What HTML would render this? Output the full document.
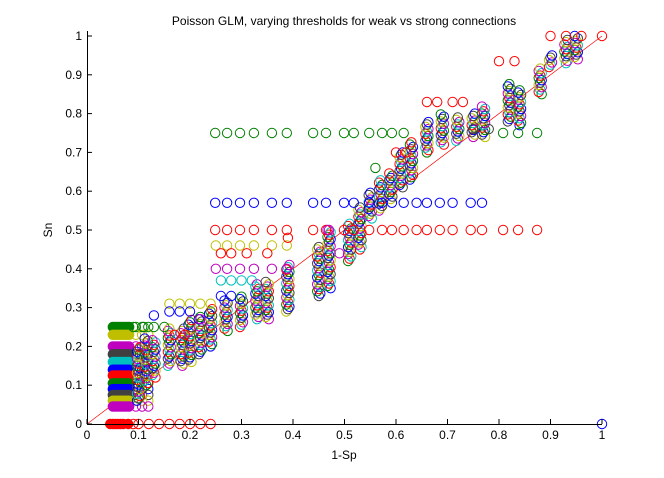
<!DOCTYPE html>
<html><head><meta charset="utf-8"><style>
body{margin:0;background:#fff}
svg{display:block;font-family:"Liberation Sans",sans-serif}
</style></head><body>
<svg id="chart" width="664" height="478" viewBox="0 0 664 478">
<text x="344" y="25" font-size="12" text-anchor="middle">Poisson GLM, varying thresholds for weak vs strong connections</text>
<g id="marks"></g>
<g id="axes"></g>
<text x="344" y="459" font-size="12" text-anchor="middle">1-Sp</text>
<text x="0" y="0" font-size="12" text-anchor="middle" transform="translate(52,230) rotate(-90)">Sn</text>
</svg>
<script>
const xTicks=[0,0.1,0.2,0.3,0.4,0.5,0.6,0.7,0.8,0.9,1];
const yTicks=[0,0.1,0.2,0.3,0.4,0.5,0.6,0.7,0.8,0.9,1];
const colors=["#0000ff","#008000","#ff0000","#00bfbf","#bf00bf","#bfbf00","#404040"];
const rowX=[0.249,0.272,0.297,0.324,0.359,0.388,0.439,0.464,0.499,0.518,0.548,0.573,0.592,0.615];
const greenRowY=0.75, greenRowExtra=[0.808,0.837,0.874];
const blueRowY=0.57, blueRowExtra=[0.64,0.66,0.685,0.71,0.745,0.767];
const redRowY=0.5, redRowExtra=[0.64,0.66,0.685,0.71,0.745,0.767,0.808,0.837,0.874];
const redZeroX=[0.045,0.05,0.055,0.06,0.065,0.07,0.08,0.09,0.1,0.12,0.14,0.16,0.18,0.2,0.22,0.24];
const sparse=[ // [x,y,colorIndex]
[0.66,0.83,2],[0.68,0.83,2],[0.71,0.83,2],[0.73,0.83,2],[0.6,0.7,2],[0.62,0.7,2],
[0.9,1.0,2],[0.93,1.0,2],[0.96,1.0,2],[0.8,0.935,2],[0.83,0.935,2],[1.0,1.0,2],[1.0,0.0,0],
[0.25,0.46,5],[0.272,0.46,5],[0.297,0.46,5],[0.324,0.46,5],[0.359,0.46,5],[0.388,0.46,5],
[0.26,0.44,2],[0.28,0.44,2],[0.31,0.44,2],[0.35,0.44,2],[0.39,0.48,2],
[0.25,0.4,4],[0.272,0.4,4],[0.297,0.4,4],[0.324,0.4,4],[0.359,0.4,4],[0.388,0.4,4],
[0.26,0.37,3],[0.28,0.37,3],[0.3,0.37,3],[0.32,0.37,3],[0.26,0.33,0],[0.28,0.33,0],
[0.16,0.31,5],[0.18,0.31,5],[0.2,0.31,5],[0.22,0.31,5],[0.24,0.31,5],
[0.09,0.25,1],[0.11,0.25,1],[0.13,0.25,1],[0.15,0.25,1],[0.17,0.23,2],[0.19,0.23,2],
[0.13,0.28,0],[0.16,0.29,0],[0.18,0.29,0],[0.2,0.29,0],[0.22,0.27,4],
[0.47,0.5,4],[0.49,0.44,4],[0.56,0.66,1],[0.75,0.76,6],[0.78,0.76,6]];
const colX=[0.1,0.115,0.13,0.16,0.185,0.2,0.22,0.24,0.27,0.3,0.33,0.35,0.39,0.45,0.47,0.51,0.53,0.55,0.57,0.59,0.61,0.63,0.66,0.69,0.72,0.75,0.77,0.82,0.84,0.88,0.9,0.93,0.95];
const colLo=[0.06,0.1,0.12,0.15,0.15,0.16,0.18,0.2,0.24,0.25,0.27,0.27,0.29,0.33,0.35,0.42,0.45,0.53,0.55,0.58,0.61,0.63,0.7,0.72,0.73,0.74,0.74,0.78,0.77,0.85,0.92,0.93,0.94];
const colHi=[0.2,0.22,0.22,0.25,0.25,0.27,0.28,0.3,0.32,0.33,0.36,0.37,0.41,0.46,0.5,0.52,0.56,0.6,0.63,0.65,0.7,0.73,0.78,0.8,0.79,0.8,0.82,0.88,0.86,0.92,0.95,0.99,1.0];
const bandY=[0.25,0.23,0.2,0.18,0.16,0.14,0.125,0.105,0.09,0.075,0.06,0.045];
const bandC=[1,5,4,6,3,0,2,1,0,6,5,4];

const X0=87,X1=602,Y0=424,Y1=36;
const sx=v=>X0+v*(X1-X0), sy=v=>Y0-v*(Y0-Y1);
const NS="http://www.w3.org/2000/svg";
const marks=document.getElementById('marks'), axes=document.getElementById('axes');
function circ(x,y,c,fill,name){
 const e=document.createElementNS(NS,'circle');
 e.setAttribute('cx',sx(x).toFixed(1));e.setAttribute('cy',sy(y).toFixed(1));e.setAttribute('r',4.7);
 e.setAttribute('fill',fill?c:'none');e.setAttribute('stroke',c);e.setAttribute('stroke-width',1);
 
 
 marks.appendChild(e);
}
const d=document.createElementNS(NS,'line');
d.setAttribute('x1',sx(0));d.setAttribute('y1',sy(0));d.setAttribute('x2',sx(1));d.setAttribute('y2',sy(1));
d.setAttribute('stroke','#ff0000');d.setAttribute('stroke-width',0.7);


marks.appendChild(d);
bandY.forEach((y,i)=>{for(let x=0.05;x<=0.086;x+=0.004)circ(x,y,colors[bandC[i]],true,'band-point');
 for(let x=0.095;x<=0.12;x+=0.012)circ(x,y,colors[bandC[i]],false,'band-point');});
colX.forEach((x,i)=>{let k=i;for(let y=colLo[i];y<=colHi[i]+1e-9;y+=0.006){circ(x+((k%3)-1)*0.003,y,colors[k%7],false,'cluster-point');k++;}});
rowX.concat(greenRowExtra).forEach(x=>circ(x,greenRowY,colors[1],false,'row-point-green'));
rowX.concat(blueRowExtra).forEach(x=>circ(x,blueRowY,colors[0],false,'row-point-blue'));
rowX.concat(redRowExtra).forEach(x=>circ(x,redRowY,colors[2],false,'row-point-red'));
redZeroX.forEach(x=>circ(x,0,colors[2],x<0.09,'zero-point-red'));
sparse.forEach(p=>circ(p[0],p[1],colors[p[2]],false,'sparse-point'));
function ln(x1,y1,x2,y2,name){const l=document.createElementNS(NS,'line');
 l.setAttribute('x1',x1);l.setAttribute('y1',y1);l.setAttribute('x2',x2);l.setAttribute('y2',y2);l.setAttribute('stroke','#000');
 
 
 axes.appendChild(l);}
function tx(x,y,s,anchor,name){const t=document.createElementNS(NS,'text');
 t.setAttribute('x',x);t.setAttribute('y',y);t.setAttribute('font-size','12');t.setAttribute('text-anchor',anchor);t.textContent=s;
 
 
 axes.appendChild(t);}
ln(X0,Y0+0.5,X1,Y0+0.5,'x-axis');ln(X0+0.5,Y0,X0+0.5,Y1-5,'y-axis');
xTicks.forEach(v=>{ln(sx(v),Y0,sx(v),Y0-5,'x-tick');tx(sx(v),Y0+15,String(v),'middle','x-tick-label');});
yTicks.forEach(v=>{ln(X0,sy(v),X0+5,sy(v),'y-tick');tx(X0-5,sy(v)+4,String(v),'end','y-tick-label');});
</script>
</body></html>
